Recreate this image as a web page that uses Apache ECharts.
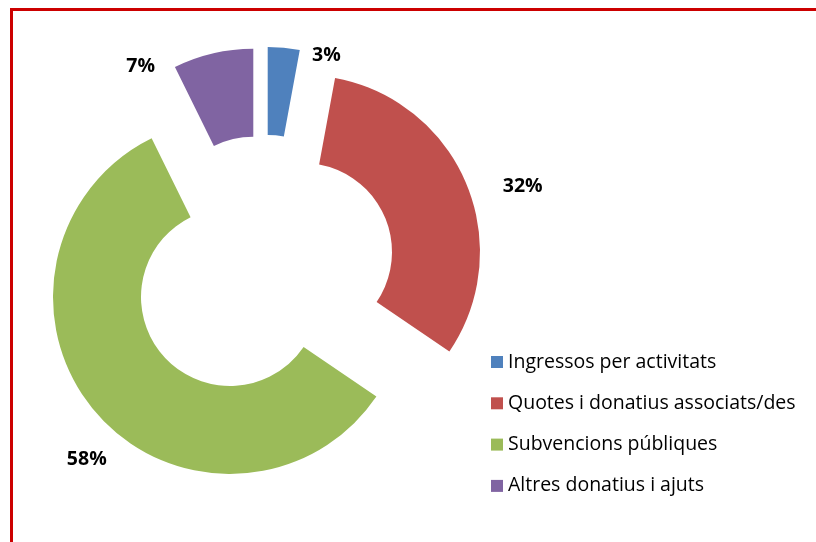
<!DOCTYPE html>
<html>
<head>
<meta charset="utf-8">
<script src="https://cdn.jsdelivr.net/npm/echarts@6/dist/echarts.min.js"></script>
<style>
  html, body { margin: 0; padding: 0; background: #fff; }
  #main { width: 816px; height: 542px; }
</style>
</head>
<body>
<div id="main"></div>
<script>
// dades del gràfic
var categories = ['Ingressos per activitats', 'Quotes i donatius associats/des', 'Subvencions públiques', 'Altres donatius i ajuts'];
var values = [2.9, 31.6, 58.2, 7.3];

var colors = ['#4F81BD', '#C0504D', '#9BBB59', '#8064A2'];
// centre de cada porció (separada) i posició de l'etiqueta
var sliceCenters = [[267.7, 224], [303, 252], [230, 297], [253.3, 225.7]];
var labelLen = [[-8, 24], [-6, 37], [70, -68], [-13, 56]];
var radius = [89, 177];
var font = '"Open Sans", Lato, sans-serif';

var chart = echarts.init(document.getElementById('main'), null, { renderer: 'canvas' });

// sèrie buida només per la llegenda (colors correctes)
var series = [{
    type: 'pie',
    center: [0, 0],
    radius: [0, 0],
    silent: true,
    label: { show: false },
    labelLine: { show: false },
    data: categories.map(function (name, i) {
        return { name: name, value: values[i], itemStyle: { color: colors[i] } };
    })
}];

// una sèrie per porció, amb totes les dades perquè els angles surtin de l'escala del pie
categories.forEach(function (cat, k) {
    series.push({
        type: 'pie',
        center: sliceCenters[k],
        radius: radius,
        startAngle: 90,
        clockwise: true,
        silent: true,
        animation: false,
        avoidLabelOverlap: false,
        percentPrecision: 0,
        itemStyle: { borderWidth: 0 },
        label: {
            show: true,
            position: 'outside',
            formatter: '{d}%',
            color: '#000',
            fontFamily: font,
            fontWeight: 'bold',
            fontSize: 19.5
        },
        labelLine: { show: false, length: labelLen[k][0], length2: labelLen[k][1] },
        emphasis: { disabled: true },
        data: categories.map(function (name, i) {
            if (i === k) {
                return { name: name, value: values[i], itemStyle: { color: colors[i] } };
            }
            return {
                name: name,
                value: values[i],
                itemStyle: { color: 'rgba(0,0,0,0)' },
                label: { show: false }
            };
        })
    });
});

var option = {
    backgroundColor: '#fff',
    animation: false,
    legend: {
        orient: 'vertical',
        left: 491,
        top: 352,
        padding: 0,
        itemWidth: 12,
        itemHeight: 12,
        itemGap: 21.3,
        icon: 'rect',
        selectedMode: false,
        textStyle: { color: '#000', fontFamily: font, fontSize: 19.5, lineHeight: 20 },
        data: categories
    },
    graphic: [{
        type: 'rect',
        shape: { x: 11.5, y: 9.5, width: 830, height: 560 },
        style: { fill: 'none', stroke: '#CC0000', lineWidth: 3 },
        silent: true
    }],
    series: series
};

chart.setOption(option);
</script>
</body>
</html>
